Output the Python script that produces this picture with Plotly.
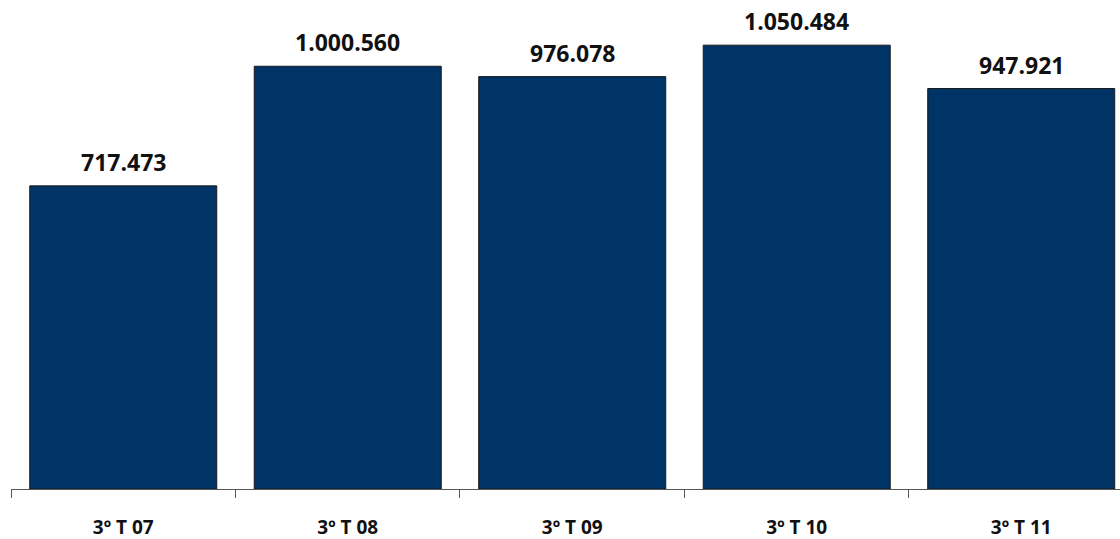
import plotly.graph_objects as go

categories = ["3º T 07", "3º T 08", "3º T 09", "3º T 10", "3º T 11"]
values = [717473, 1000560, 976078, 1050484, 947921]
labels = ["717.473", "1.000.560", "976.078", "1.050.484", "947.921"]

fig = go.Figure()
fig.add_trace(go.Bar(
    x=categories, y=values,
    marker=dict(color="#003366", line=dict(color="#1a1a1a", width=1)),
    hoverinfo="skip",
))
for c, v, t in zip(categories, values, labels):
    fig.add_annotation(x=c, y=v, text="<b>%s</b>" % t, showarrow=False,
                       yanchor="bottom", yshift=6,
                       font=dict(family="Open Sans", size=23, color="#111111"))

fig.update_layout(
    width=1120, height=539,
    margin=dict(l=11, r=0, t=0, b=50),
    paper_bgcolor="white", plot_bgcolor="white",
    bargap=0.167, showlegend=False,
)
fig.update_xaxes(
    range=[-0.5, 4.44], tickson="boundaries", ticks="outside", ticklen=8,
    tickcolor="#555555", showline=True, linecolor="#555555", linewidth=1,
    showgrid=False, tickfont=dict(family="Open Sans", size=19, color="#111111"),
    tickprefix="<b>", ticksuffix="</b>", ticklabelstandoff=21, automargin=False,
)
fig.update_yaxes(range=[0, 1157400], visible=False, showgrid=False, automargin=False)

fig.write_html("out.html")
